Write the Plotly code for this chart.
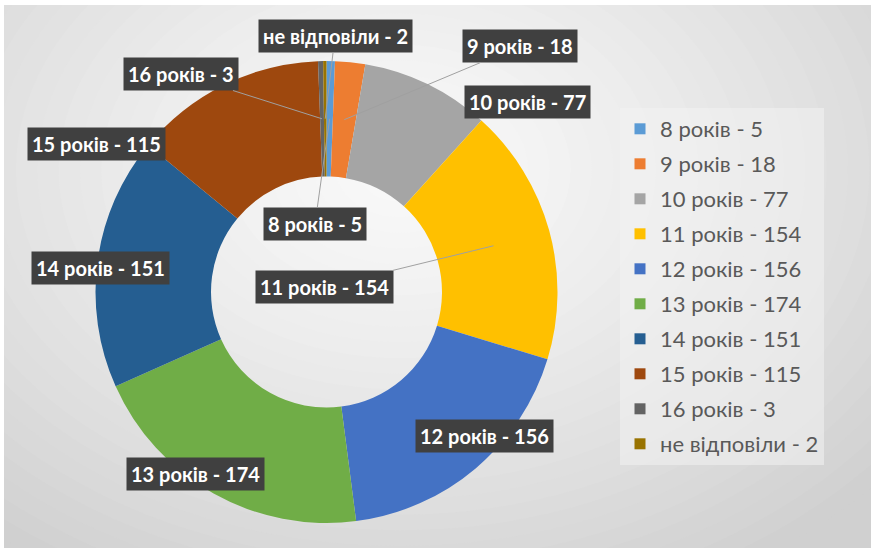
import math
import plotly.graph_objects as go

# ---------------- data ----------------
categories = ["8 років", "9 років", "10 років", "11 років", "12 років",
              "13 років", "14 років", "15 років", "16 років", "не відповіли"]
values = [5, 18, 77, 154, 156, 174, 151, 115, 3, 2]
colors = ["#5B9BD5", "#ED7D31", "#A5A5A5", "#FFC000", "#4472C4",
          "#70AD47", "#255E91", "#9E480E", "#636363", "#997300"]
labels = [f"{c} - {v}" for c, v in zip(categories, values)]

# ---------------- layout constants (pixels) ----------------
W, H = 871, 548
cx, cy, R = 326.5, 292.0, 231.0
HOLE = 0.5

# label box centres (px) and whether a leader line is drawn
label_pos = [
    (315, 224, True),    # 8
    (520, 46, True),     # 9
    (527, 102, False),   # 10
    (325, 287, True),    # 11
    (485, 436, False),   # 12
    (195, 474, False),   # 13
    (100, 268, False),   # 14
    (96, 144, False),    # 15
    (181, 74, True),     # 16
    (335, 36, True),     # не відповіли
]

fig = go.Figure()
fig.add_trace(go.Pie(
    labels=labels, values=values, hole=HOLE, sort=False, direction="clockwise",
    rotation=0, marker=dict(colors=colors, line=dict(width=0)),
    textinfo="none", hoverinfo="label+value", showlegend=False,
    domain=dict(x=[(cx - R) / W, (cx + R) / W], y=[1 - (cy + R) / H, 1 - (cy - R) / H]),
))

# legend entries (one per slice, same labels / colours)
for i, lab in enumerate(labels):
    fig.add_trace(go.Scatter(
        x=[None], y=[None], mode="markers", name=lab, legendgroup=f"g{i}",
        marker=dict(symbol="square", size=11, color=colors[i]), hoverinfo="skip",
    ))

# ---------------- annotations computed from slice angles ----------------
total = sum(values)
annotations = []
cum = 0
for i, v in enumerate(values):
    mid = (cum + v / 2) / total * 2 * math.pi
    cum += v
    lx, ly, lead = label_pos[i]
    common = dict(text=labels[i], bgcolor="#404040", borderpad=4,
                  font=dict(family="Lato", size=20, color="white", weight="bold"),
                  xref="paper", yref="paper", xanchor="center", yanchor="middle")
    if lead:
        r = R * (1 + HOLE) / 2
        tx = cx + r * math.sin(mid)
        ty = cy - r * math.cos(mid)
        annotations.append(dict(x=tx / W, y=1 - ty / H, ax=lx - tx, ay=ly - ty,
                                axref="pixel", ayref="pixel", showarrow=True,
                                arrowhead=0, arrowwidth=1, arrowcolor="#a0a0a0",
                                standoff=0, **common))
    else:
        annotations.append(dict(x=lx / W, y=1 - ly / H, showarrow=False, **common))

# ---------------- background: radial gradient approximation ----------------
shapes = []
shapes.append(dict(type="rect", xref="paper", yref="paper", x0=4 / W, x1=1.01,
                   y0=-0.01, y1=1 - 5 / H, fillcolor="#d0d0d0", line=dict(width=0), layer="below"))
gx, gy, rx, ry = 400, 170, 640, 470
steps = 30
c_out, c_in = 208, 249
for k in range(steps):
    f = 1 - k / steps
    c = round(c_in + (c_out - c_in) * f ** 1.3)
    shapes.append(dict(type="circle", xref="paper", yref="paper",
                       x0=(gx - rx * f) / W, x1=(gx + rx * f) / W,
                       y0=1 - (gy + ry * f) / H, y1=1 - (gy - ry * f) / H,
                       fillcolor=f"rgb({c},{c},{c})", line=dict(width=0), layer="below"))
shapes.append(dict(type="rect", xref="paper", yref="paper", x0=-0.05, x1=1.05,
                   y0=1 - 5 / H, y1=1.05, fillcolor="white", line=dict(width=0), layer="below"))
shapes.append(dict(type="rect", xref="paper", yref="paper", x0=-0.05, x1=4 / W,
                   y0=-0.05, y1=1.05, fillcolor="white", line=dict(width=0), layer="below"))

fig.update_layout(
    width=W, height=H, margin=dict(l=0, r=0, t=0, b=0),
    paper_bgcolor="white", plot_bgcolor="rgba(0,0,0,0)",
    annotations=annotations, shapes=shapes,
    showlegend=True,
    xaxis=dict(visible=False), yaxis=dict(visible=False),
    legend=dict(x=620 / W, xanchor="left", y=1 - 108 / H, yanchor="top",
                bgcolor="rgba(242,242,242,0.55)", borderwidth=0,
                font=dict(family="Lato", size=22, color="#595959"),
                traceorder="grouped", tracegroupgap=3.4),
)

fig.write_html("out.html", config={"displayModeBar": False},
               post_script="document.body.style.margin='0';")
